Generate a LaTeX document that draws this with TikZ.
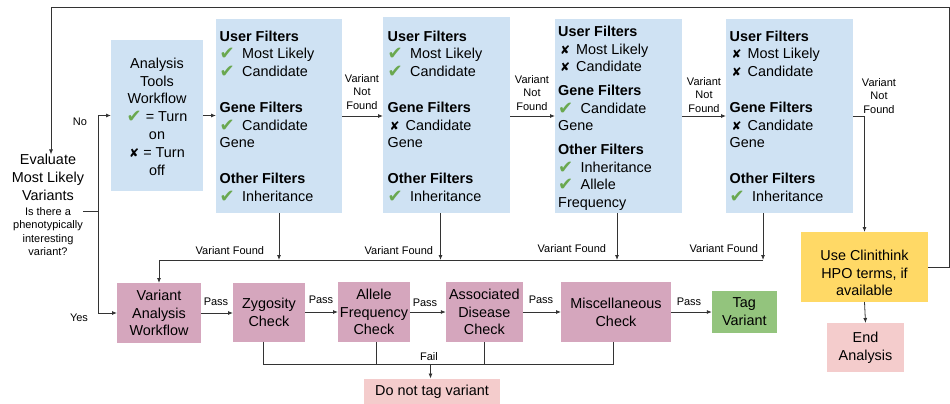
\documentclass[tikz,border=0pt]{standalone}
\usepackage{fontspec}
\setmainfont{Liberation Sans}
\newfontfamily\symfont{DejaVu Sans}
\usetikzlibrary{arrows.meta,calc}
\definecolor{bluebg}{HTML}{CFE2F3}
\definecolor{mauve}{HTML}{D5A6BD}
\definecolor{tagg}{HTML}{93C47D}
\definecolor{yel}{HTML}{FFD966}
\definecolor{pinkbg}{HTML}{F4CCCC}
\definecolor{ckg}{HTML}{6AA84F}
\definecolor{lc}{HTML}{333333}
\newcommand\ckg{\smash{\raisebox{-1pt}{\textcolor{ckg}{\symfont\fontsize{18}{18}\selectfont ✔}}}}
\newcommand\xg{{\symfont\fontsize{12}{12}\selectfont ✘}}
\newcommand\ckm{\makebox[22.5pt][l]{\ckg}}
\newcommand\xm{\makebox[18pt][l]{\hspace{2pt}\xg}}
\begin{document}
\begin{tikzpicture}[x=1pt,y=-1pt,
  bx/.style={inner sep=0pt, outer sep=0pt},
  big/.style={font=\fontsize{14.4}{17.8}\selectfont},
  small/.style={font=\fontsize{11}{13.6}\selectfont},
  filt/.style={anchor=north west, align=left, inner sep=0pt, big},
  wire/.style={draw=lc, line width=0.8pt},
  arr/.style={draw=lc, line width=0.8pt, -{Latex[length=5pt,width=4pt]}}]
\useasboundingbox (0,0) rectangle (950,404);

% ---- top filter boxes
\node[bx, fill=bluebg, minimum width=92pt, minimum height=151pt] (atw) at (157,115.5) {};
\node[bx, align=center, big] (atwt) at (157,116.5) {Analysis\\Tools\\Workflow\\\ckg{} = Turn\\on\\\xg{} = Turn\\off};

\node[bx, fill=bluebg, minimum width=126pt, minimum height=194pt] (b1) at (279,116) {};
\node[filt] (t1) at (219.5,30.5) {\textbf{User Filters}\\\ckm Most Likely\\\ckm Candidate\\[17.8pt]\textbf{Gene Filters}\\\ckm Candidate\\Gene\\[17.8pt]\textbf{Other Filters}\\\ckm Inheritance};

\node[bx, fill=bluebg, minimum width=127pt, minimum height=196pt] (b2) at (446.5,115) {};
\node[filt] (t2) at (387.5,30.5) {\textbf{User Filters}\\\ckm Most Likely\\\ckm Candidate\\[17.8pt]\textbf{Gene Filters}\\\xm Candidate\\Gene\\[17.8pt]\textbf{Other Filters}\\\ckm Inheritance};

\node[bx, fill=bluebg, minimum width=127pt, minimum height=194pt] (b3) at (618.5,116) {};
\node[filt] (t3) at (558,25.6) {\textbf{User Filters}\\\xm Most Likely\\\xm Candidate\\[5.6pt]\textbf{Gene Filters}\\\ckm Candidate\\Gene\\[5.6pt]\textbf{Other Filters}\\\ckm Inheritance\\\ckm Allele\\Frequency};

\node[bx, fill=bluebg, minimum width=127pt, minimum height=194pt] (b4) at (789.5,116) {};
\node[filt] (t4) at (729.5,30.5) {\textbf{User Filters}\\\xm Most Likely\\\xm Candidate\\[17.8pt]\textbf{Gene Filters}\\\xm Candidate\\Gene\\[17.8pt]\textbf{Other Filters}\\\ckm Inheritance};

% ---- clinithink / end
\node[bx, fill=yel, minimum width=127pt, minimum height=70pt] (clin) at (864.5,267) {};
\node[bx, align=center, big] (clint) at (864.5,273) {Use Clinithink\\HPO terms, if\\available};
\node[bx, fill=pinkbg, minimum width=77pt, minimum height=49pt, align=center, big] (endn) at (865.5,347.5) {End\\Analysis};

% ---- evaluate
\node[bx, align=center, big] (eval) at (48,177.5) {Evaluate\\Most Likely\\Variants};
\node[bx, align=center, small] (q) at (48,231.5) {Is there a\\phenotypically\\interesting\\variant?};
\coordinate (qe) at (83,211);
\coordinate (jn) at (98,211);
\node[bx, small] (no) at (80,122) {No};
\node[bx, small] (yes) at (79,318) {Yes};

% ---- bottom row
\node[bx, fill=mauve, minimum width=84pt, minimum height=60pt, align=center, big] (vaw) at (159,313) {Variant\\Analysis\\Workflow};
\node[bx, fill=mauve, minimum width=72pt, minimum height=59pt, align=center, big] (zyg) at (269,312) {Zygosity\\Check};
\node[bx, fill=mauve, minimum width=72pt, minimum height=60pt, align=center, big] (af) at (374,312) {Allele\\Frequency\\Check};
\node[bx, fill=mauve, minimum width=77pt, minimum height=60pt, align=center, big] (ad) at (484.3,312) {Associated\\Disease\\Check};
\node[bx, fill=mauve, minimum width=110pt, minimum height=60pt, align=center, big] (misc) at (616,312) {Miscellaneous\\Check};
\node[bx, fill=tagg, minimum width=65pt, minimum height=42pt, align=center, big] (tag) at (744.3,312) {Tag\\Variant};
\node[bx, fill=pinkbg, minimum width=136pt, minimum height=26pt, big] (dnt) at (432,391.5) {Do not tag variant};

% ---- connectors top
\draw[wire] (qe) -- (jn);
\draw[arr] (jn) |- (atw.west);
\draw[arr] (jn) |- (vaw.west);
\draw[arr] (atw.east) -- (atw.east -| b1.west);
\draw[arr] (b1.east) -- (b1.east -| b2.west);
\draw[arr] (b2.east |- b1.east) -- (b1.east -| b3.west);
\draw[arr] (b3.east) -- (b3.east -| b4.west);
\draw[arr] (b4.east) -| (clin.north);
\draw[arr] (clin.south) -- (endn.north);
\coordinate (tr) at (949,7);
\coordinate (tl) at (51,7);
\draw[arr] (clin.east) -- (clin.east -| tr) -- (tr) -- (tl) -- (tl |- eval.north);

\node[bx, align=center, small] (vnf1) at (362,92) {Variant\\Not\\Found};
\node[bx, align=center, small] (vnf2) at (532,93) {Variant\\Not\\Found};
\node[bx, align=center, small] (vnf3) at (704,95) {Variant\\Not\\Found};
\node[bx, align=center, small] (vnf4) at (879,96) {Variant\\Not\\Found};

% ---- variant found bus
\coordinate (v1) at (279,260);
\coordinate (v2) at (440.5,260);
\coordinate (v3) at (617,260);
\coordinate (v4) at (763,260);
\draw[arr] (v1 |- b1.south) -- (v1);
\draw[arr] (v2 |- b2.south) -- (v2);
\draw[arr] (v3 |- b3.south) -- (v3);
\draw[arr] (v4 |- b4.south) -- (v4);
\draw[arr] (v4) -- (v4 -| vaw.north) -- (vaw.north);
\node[bx, small, anchor=east] (vf1) at (264,251) {Variant Found};
\node[bx, small, anchor=east] (vf2) at (433,251) {Variant Found};
\node[bx, small, anchor=east] (vf3) at (606,249) {Variant Found};
\node[bx, small, anchor=east] (vf4) at (758,249) {Variant Found};

% ---- pass chain
\draw[arr] (vaw.east) -- (vaw.east -| zyg.west);
\draw[arr] (zyg.east) -- (zyg.east -| af.west);
\draw[arr] (af.east) -- (af.east -| ad.west);
\draw[arr] (ad.east) -- (ad.east -| misc.west);
\draw[arr] (misc.east) -- (misc.east -| tag.west);
\node[bx, small] (p1) at (216,302) {Pass};
\node[bx, small] (p2) at (321,300) {Pass};
\node[bx, small] (p3) at (425,303) {Pass};
\node[bx, small] (p4) at (541,300) {Pass};
\node[bx, small] (p5) at (689,302) {Pass};

% ---- fail
\coordinate (fz) at (263,364);
\coordinate (fa) at (376,364);
\coordinate (fd) at (484.3,364);
\coordinate (fm) at (613,364);
\coordinate (f) at (430.5,364);
\draw[wire] (fz |- zyg.south) -- (fz) -- (fm) -- (fm |- misc.south);
\draw[wire] (fa |- af.south) -- (fa);
\draw[wire] (fd |- ad.south) -- (fd);
\draw[arr] (f) -- (f |- dnt.north);
\node[bx, small] (fl) at (429,357) {Fail};
\end{tikzpicture}
\end{document}
